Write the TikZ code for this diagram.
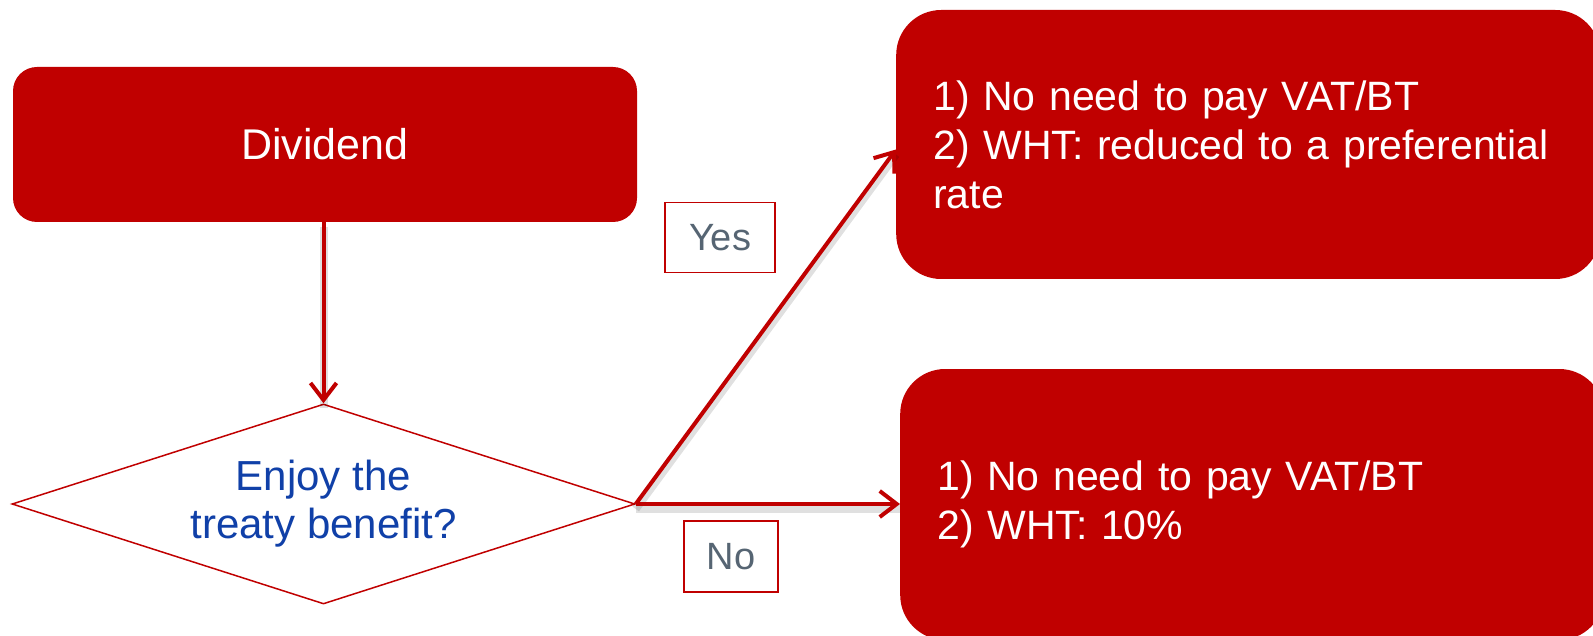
\documentclass[tikz,border=0pt]{standalone}
\usepackage{fontspec}
\setmainfont{Liberation Sans}
\usetikzlibrary{shapes.geometric,arrows.meta}
\hyphenpenalty=10000
\definecolor{boxred}{HTML}{C00000}
\definecolor{lblgray}{HTML}{566573}
\definecolor{qblue}{HTML}{1040A8}
\tikzset{
  redbox/.style={fill=boxred, draw=none, rounded corners=45pt, text=white, align=left,
    font=\fontsize{41}{49}\selectfont, inner xsep=37pt, inner ysep=0pt},
  lbl/.style={draw=boxred, line width=1.5pt, text=lblgray, font=\fontsize{38}{42}\selectfont, inner sep=0pt},
  conn/.style={draw=boxred, line width=4pt, -{Straight Barb[length=17pt,width=26pt,line width=4pt]},
    preaction={draw=black, draw opacity=0.12, line width=8pt, arrows=-, transform canvas={yshift=-5pt}}},
}
\begin{document}
\begin{tikzpicture}[x=1pt,y=-1pt]
\useasboundingbox (0,0) rectangle (1593,636);
\clip (0,0) rectangle (1593,636);
\node[fill=boxred, rounded corners=24pt, minimum width=624pt, minimum height=155pt, text=white,
  font=\fontsize{43}{49}\selectfont, inner sep=0pt] (div) at (325,144.5) {Dividend};
\node[diamond, draw=boxred, line width=1.5pt, aspect=3.1, minimum width=623pt, minimum height=200pt,
  inner sep=0pt, text=qblue, align=center, font=\fontsize{42}{48}\selectfont] (q) at (323.5,504) {Enjoy the\\treaty benefit?};
\node[redbox, anchor=west, minimum width=704pt, minimum height=269pt, text width=630pt] (top) at (896,144.5)
  {1) No need to pay VAT/BT\\2) WHT: reduced to a preferential\\rate};
\node[redbox, anchor=west, minimum width=704pt, minimum height=271pt, text width=630pt] (bot) at (900,504.5)
  {1) No need to pay VAT/BT\\2) WHT: 10\%};
\node[lbl, minimum width=110pt, minimum height=70pt] (yes) at (720,237.5) {Yes};
\node[lbl, minimum width=94pt, minimum height=71pt] (no) at (731,556.5) {No};
\draw[conn] (div.south -| q.north) -- (q.north);
\draw[conn] (q.east) -- ([yshift=-5pt]top.west);
\draw[conn] (q.east) -- (bot.west |- q.east);
\end{tikzpicture}
\end{document}
